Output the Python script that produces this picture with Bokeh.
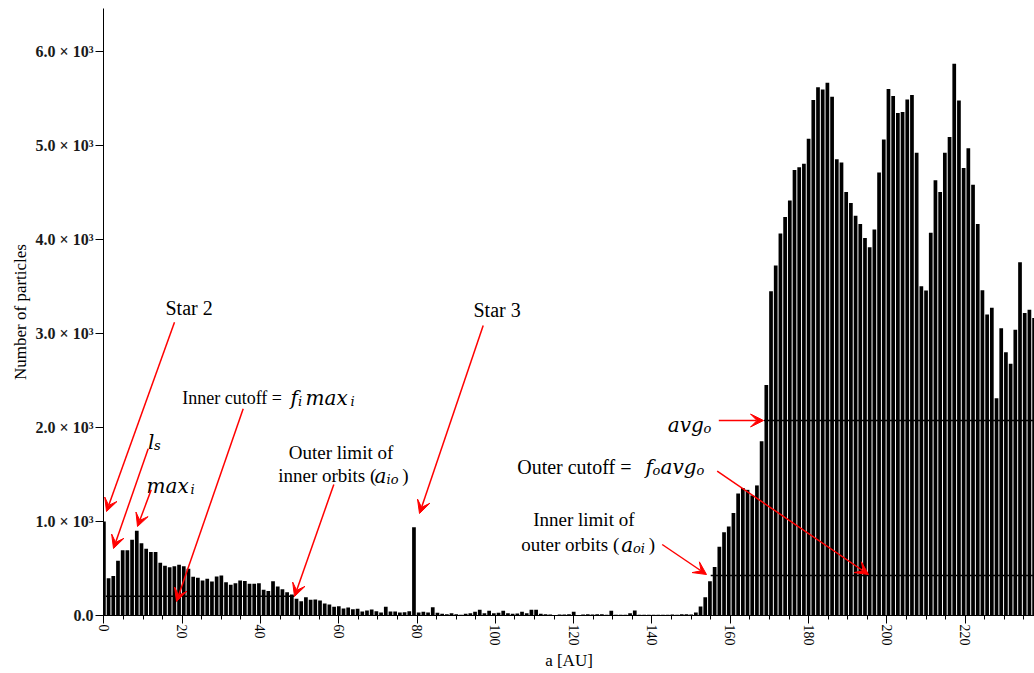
import math
from bokeh.plotting import figure
from bokeh.models import (Range1d, SingleIntervalTicker, CustomJSTickFormatter,
                          Arrow, VeeHead, Label, ColumnDataSource)
from bokeh.embed import file_html
from bokeh.resources import INLINE

# ---------------- data ----------------
bin_width = 1.2  # AU per histogram bin
counts = [
    1000, 395, 420, 582, 694, 694, 807, 901, 770, 711,
    675, 675, 560, 528, 514, 525, 541, 525, 497, 411,
    401, 372, 390, 362, 415, 426, 355, 326, 344, 372,
    368, 337, 337, 344, 273, 260, 365, 309, 280, 248,
    223, 177, 152, 195, 167, 170, 160, 128, 117, 92,
    99, 74, 85, 67, 71, 43, 53, 64, 46, 32,
    92, 43, 43, 32, 35, 46, 940, 32, 39, 32,
    89, 28, 18, 14, 25, 14, 7, 18, 25, 39,
    60, 25, 50, 25, 28, 50, 25, 18, 21, 39,
    25, 60, 60, 18, 14, 11, 4, 11, 11, 14,
    41, 4, 11, 14, 11, 14, 14, 7, 50, 7,
    7, 7, 25, 53, 7, 7, 7, 7, 7, 7,
    7, 11, 7, 14, 14, 11, 32, 95, 195, 365,
    516, 731, 887, 946, 1091, 1298, 1357, 1337, 1278, 1384,
    1853, 2452, 3450, 3724, 4063, 4240, 4416, 4740, 4768, 4807,
    5073, 5484, 5620, 5597, 5667, 5519, 4854, 4819, 4506, 4388,
    4252, 4166, 4017, 3919, 4107, 4714, 5065, 5601, 5526, 5347,
    5358, 5491, 5538, 4924, 3504, 3458, 4071, 4631, 4506, 4924,
    5092, 5871, 5480, 4760, 4971, 4584, 4166, 3461, 3203, 3273,
    2311, 3055, 2800, 2679, 3039, 3758, 3219, 3254, 3164,
]
bin_centers = [round(i * bin_width, 2) for i in range(len(counts))]

# threshold lines: (value, x start, x end)
inner_cutoff = 205
inner_cutoff_x = [0.5, 48.6]
avg_o = 2075
avg_o_x = [168.6, 240.0]
outer_cutoff = 425
outer_cutoff_x = [155.0, 240.0]

x_ticks_interval = 20
y_ticks_interval = 1000
x_title = "a [AU]"
y_title = "Number of particles"

# ---------------- figure ----------------
W, H = 1034, 673
L, T, B = 103, 8, 58
X0, X1 = -0.1, 237.7
Y0, Y1 = 0, 6458

p = figure(width=W, height=H, x_range=Range1d(X0, X1), y_range=Range1d(Y0, Y1),
           output_backend="svg", toolbar_location=None,
           min_border_left=L, min_border_right=0, min_border_top=T, min_border_bottom=B)
p.outline_line_color = None
p.xgrid.visible = False
p.ygrid.visible = False
p.background_fill_color = "white"
p.border_fill_color = "white"

src = ColumnDataSource(dict(x=bin_centers, top=counts))
p.vbar(x="x", top="top", width=0.95, bottom=0, source=src,
       fill_color="black", line_color=None)

for val, xs in [(inner_cutoff, inner_cutoff_x), (avg_o, avg_o_x), (outer_cutoff, outer_cutoff_x)]:
    p.line(x=xs, y=[val, val], line_color="black", line_width=1.5)

# axes
serif = "Liberation Serif"
xa = p.xaxis[0]
xa.ticker = SingleIntervalTicker(interval=x_ticks_interval, num_minor_ticks=4)
xa.major_label_orientation = -math.pi / 2
xa.major_label_text_font = serif
xa.major_label_text_font_size = "14px"
xa.major_label_text_color = "black"
xa.major_tick_out = 8
xa.major_tick_in = 0
xa.minor_tick_out = 4
xa.minor_tick_in = 0
xa.major_label_standoff = 1
xa.axis_label = x_title
xa.axis_label_text_font = serif
xa.axis_label_text_font_style = "normal"
xa.axis_label_text_font_size = "17px"
xa.axis_label_text_color = "black"
xa.axis_label_standoff = 2
xa.axis_line_color = "black"
xa.major_tick_line_color = "black"
xa.minor_tick_line_color = "black"

ya = p.yaxis[0]
ya.ticker = SingleIntervalTicker(interval=y_ticks_interval, num_minor_ticks=0)
ya.formatter = CustomJSTickFormatter(code="""
if (tick == 0) { return '0.0'; }
return (tick / 1000).toFixed(1) + ' \u00d7 10\u00b3';
""")
ya.major_label_text_font = serif
ya.major_label_text_font_style = "bold"
ya.major_label_text_font_size = "16px"
ya.major_label_text_color = "#1a1a1a"
ya.major_tick_out = 8
ya.major_tick_in = 0
ya.minor_tick_out = 0
ya.minor_tick_in = 0
ya.major_label_standoff = 2
ya.axis_label = y_title
ya.axis_label_text_font = serif
ya.axis_label_text_font_style = "normal"
ya.axis_label_text_font_size = "17px"
ya.axis_label_text_color = "black"
ya.axis_label_standoff = 3
ya.axis_line_color = "black"
ya.major_tick_line_color = "black"

# ---------------- annotations ----------------
PXX = (W - L) / (X1 - X0)
PXY = (H - B - T) / (Y1 - Y0)
def dx(px):
    return X0 + (px - L) / PXX
def dy(py):
    return Y0 + (H - B - py) / PXY

math_font = "DejaVu Serif"
texts = [
    # text, left px, baseline px, font, style, size
    ("Star 2", 165, 307.5, serif, "normal", 20),
    ("Star 3", 473, 309, serif, "normal", 20),
    ("Inner cutoff = ", 181.7, 397, serif, "normal", 18),
    ("f", 290, 397, math_font, "italic", 20),
    ("i", 297.5, 401, math_font, "italic", 13),
    ("max", 305, 397, math_font, "italic", 20),
    ("i", 350, 401, math_font, "italic", 13),
    ("l", 147.5, 441, math_font, "italic", 20),
    ("s", 153.5, 445, math_font, "italic", 13),
    ("max", 146, 485, math_font, "italic", 20),
    ("i", 190, 489, math_font, "italic", 13),
    ("Outer limit  of", 288.3, 451.7, serif, "normal", 19),
    ("inner orbits (", 277.7, 475, serif, "normal", 19),
    ("a", 374, 475, math_font, "italic", 20),
    ("io", 386, 479, math_font, "italic", 13),
    (")", 401.7, 475, serif, "normal", 19),
    ("avg", 667.3, 424, math_font, "italic", 20),
    ("o", 703, 428, math_font, "italic", 13),
    ("Outer  cutoff = ", 516.7, 466, serif, "normal", 20),
    ("f", 645, 466, math_font, "italic", 20),
    ("o", 652, 470, math_font, "italic", 13),
    ("avg", 660, 466, math_font, "italic", 20),
    ("o", 696, 470, math_font, "italic", 13),
    ("Inner limit  of", 532.7, 519.3, serif, "normal", 19),
    ("outer orbits (", 520.7, 544, serif, "normal", 19),
    ("a", 620.7, 544, math_font, "italic", 20),
    ("oi", 632.5, 548, math_font, "italic", 13),
    (")", 648.3, 544, serif, "normal", 19),
]
for t, px, py, font, style, size in texts:
    p.add_layout(Label(x=dx(px), y=dy(py), text=t, text_font=font,
                       text_font_style=style, text_font_size=f"{size}px",
                       text_color="black", text_align="left",
                       text_baseline="alphabetic"))

arrows = [
    ((174, 321.7), (106, 511)),
    ((147.7, 448.3), (113, 548)),
    ((150.7, 489.3), (137, 526)),
    ((242.7, 408.3), (176, 601)),
    ((333.3, 484), (294, 596)),
    ((482.7, 325), (419, 513)),
    ((718.3, 420), (763, 420)),
    ((716.7, 470.7), (868, 574)),
    ((661.7, 544), (706, 574)),
]
for (sx, sy), (ex, ey) in arrows:
    p.add_layout(Arrow(end=VeeHead(size=13, fill_color="red", line_color="red", line_width=1),
                       x_start=dx(sx), y_start=dy(sy), x_end=dx(ex), y_end=dy(ey),
                       line_color="red", line_width=1.5))

open("out.html", "w").write(file_html(p, INLINE))
